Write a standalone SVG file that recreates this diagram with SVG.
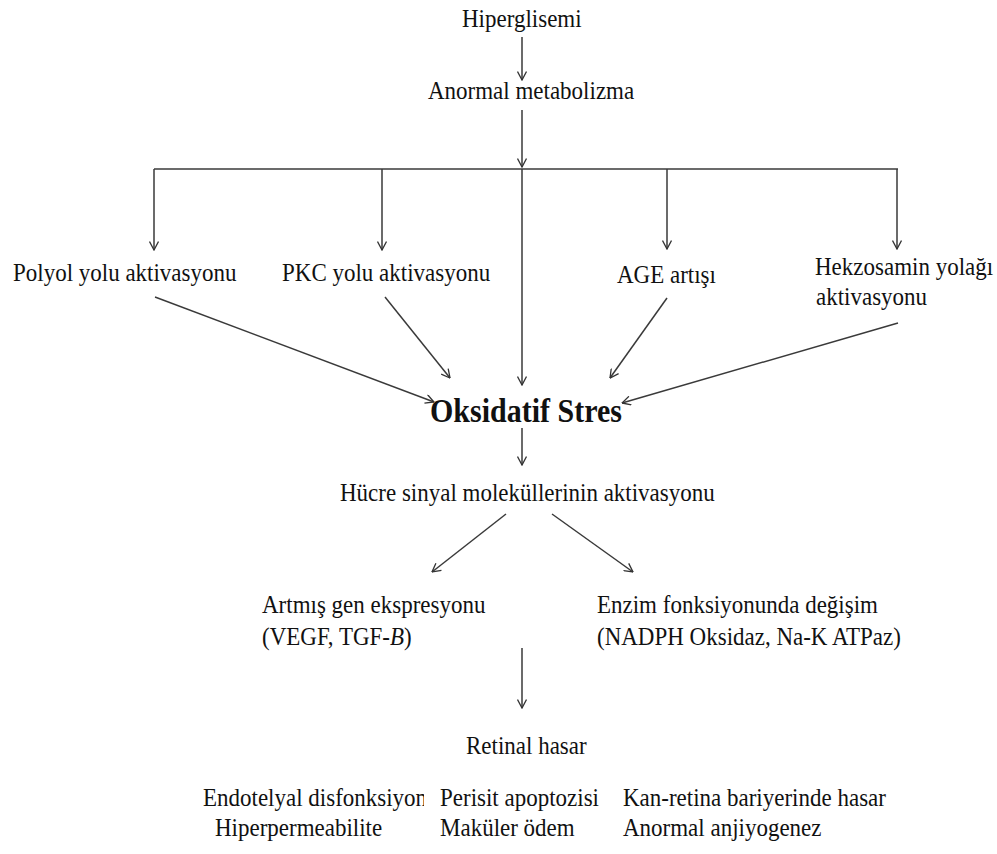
<svg xmlns="http://www.w3.org/2000/svg" width="997" height="854" viewBox="0 0 997 854">
<defs>
<marker id="ah" viewBox="0 0 10 10" refX="9.5" refY="5" markerWidth="10" markerHeight="10" markerUnits="userSpaceOnUse" orient="auto">
<path d="M1,0.5 L9.5,5 L1,9.5" fill="none" stroke="#333" stroke-width="1.3"/>
</marker>
<clipPath id="clipEndo"><rect x="190" y="770" width="234" height="45"/></clipPath>
<style>
text{font-size:23px;fill:#111}
.b{font-weight:bold;font-size:30px}
.c line,.c path{stroke:#3a3a3a;stroke-width:1.5;fill:none}
.a{marker-end:url(#ah)}
</style>
</defs>
<rect width="997" height="854" fill="#fff"/>
<g class="c" id="connectors">
<line class="a" x1="522" y1="37" x2="522" y2="80"/>
<line class="a" x1="522" y1="110" x2="522" y2="167"/>
<line x1="154" y1="169" x2="898" y2="169"/>
<line class="a" x1="154" y1="169" x2="154" y2="250"/>
<line class="a" x1="382" y1="169" x2="382" y2="250"/>
<line class="a" x1="667" y1="169" x2="667" y2="249"/>
<line class="a" x1="897" y1="169" x2="897" y2="249"/>
<line class="a" x1="522" y1="169" x2="522" y2="385"/>
<line class="a" x1="155" y1="297" x2="434" y2="402"/>
<line class="a" x1="385" y1="297" x2="450" y2="378"/>
<line class="a" x1="667" y1="298" x2="610" y2="378"/>
<line class="a" x1="898" y1="323" x2="622" y2="403"/>
<line class="a" x1="522" y1="428" x2="522" y2="465"/>
<line class="a" x1="506" y1="514" x2="432" y2="572"/>
<line class="a" x1="552" y1="514" x2="633" y2="572"/>
<line class="a" x1="522" y1="648" x2="522" y2="708"/>
</g>
<g font-family="'Liberation Serif', 'Times New Roman', 'DejaVu Serif', serif">
<g id="hiperglisemi"><text x="462" y="27" transform="matrix(1 0 0 1.12 0 -3.24)">Hiperglisemi</text></g>
<g id="anormal-metabolizma"><text x="428" y="99" transform="matrix(1 0 0 1.12 0 -11.88)">Anormal metabolizma</text></g>
<g id="polyol"><text x="13" y="281" transform="matrix(1 0 0 1.12 0 -33.72)">Polyol yolu aktivasyonu</text></g>
<g id="pkc"><text x="282" y="281" transform="matrix(1 0 0 1.12 0 -33.72)">PKC yolu aktivasyonu</text></g>
<g id="age"><text x="617" y="283" transform="matrix(1 0 0 1.12 0 -33.96)">AGE artışı</text></g>
<g id="hekzosamin"><text x="815" y="275" transform="matrix(1 0 0 1.12 0 -33)">Hekzosamin yolağı</text><text x="816" y="305" transform="matrix(1 0 0 1.12 0 -36.6)">aktivasyonu</text></g>
<g id="oksidatif-stres"><text class="b" x="430" y="422" transform="matrix(1 0 0 1.12 0 -50.64)">Oksidatif Stres</text></g>
<g id="hucre-sinyal"><text x="340" y="501" transform="matrix(1 0 0 1.12 0 -60.12)">Hücre sinyal moleküllerinin aktivasyonu</text></g>
<g id="gen-ekspresyonu"><text x="262" y="613" transform="matrix(1 0 0 1.12 0 -73.56)">Artmış gen ekspresyonu</text><text x="262" y="645" transform="matrix(1 0 0 1.12 0 -77.4)">(VEGF, TGF-<tspan font-style="italic">B</tspan>)</text></g>
<g id="enzim"><text x="597" y="613" transform="matrix(1 0 0 1.12 0 -73.56)">Enzim fonksiyonunda değişim</text><text x="597" y="645" transform="matrix(1 0 0 1.12 0 -77.4)">(NADPH Oksidaz, Na-K ATPaz)</text></g>
<g id="retinal-hasar"><text x="466" y="754" transform="matrix(1 0 0 1.12 0 -90.48)">Retinal hasar</text></g>
<g id="endotelyal"><text x="203" y="806" clip-path="url(#clipEndo)" transform="matrix(1 0 0 1.12 0 -96.72)">Endotelyal disfonksiyon</text><text x="215" y="836" transform="matrix(1 0 0 1.12 0 -100.32)">Hiperpermeabilite</text></g>
<g id="perisit"><text x="440" y="806" transform="matrix(1 0 0 1.12 0 -96.72)">Perisit apoptozisi</text><text x="440" y="836" transform="matrix(1 0 0 1.12 0 -100.32)">Maküler ödem</text></g>
<g id="kan-retina"><text x="623" y="806" transform="matrix(1 0 0 1.12 0 -96.72)">Kan-retina bariyerinde hasar</text><text x="623" y="836" transform="matrix(1 0 0 1.12 0 -100.32)">Anormal anjiyogenez</text></g>
</g>
</svg>
